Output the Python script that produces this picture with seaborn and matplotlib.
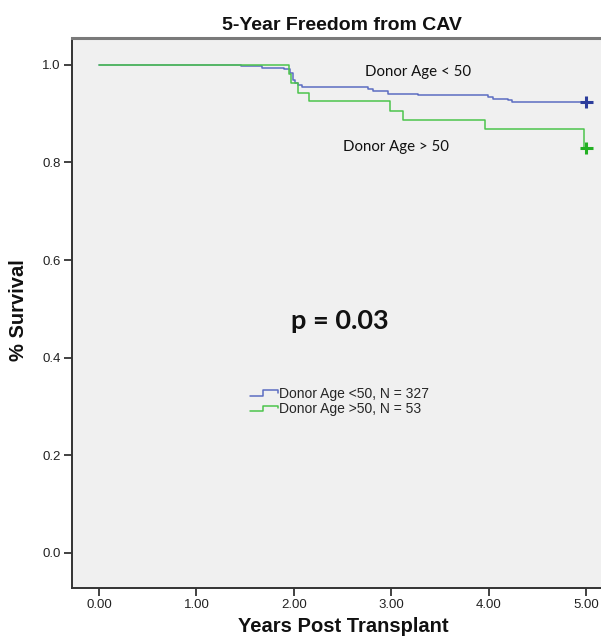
#!/usr/bin/env python
# -*- coding: utf-8 -*-

import pandas as pd
import matplotlib
matplotlib.use('Agg')
import matplotlib.pyplot as plt
from matplotlib.lines import Line2D
from matplotlib.legend_handler import HandlerBase
from matplotlib.ticker import FormatStrFormatter
import seaborn as sns

# Kaplan-Meier step values (time in years, survival after the step)
young_years = [0.00, 1.46, 1.67, 1.90, 1.96, 1.99, 2.01, 2.04, 2.08, 2.76, 2.81,
               2.96, 3.27, 3.99, 4.04, 4.20, 4.24, 5.00]
young_surv = [1.000, 0.997, 0.994, 0.991, 0.983, 0.969, 0.962, 0.959, 0.954, 0.951, 0.946,
              0.941, 0.939, 0.935, 0.931, 0.928, 0.924, 0.924]
old_years = [0.00, 1.945, 1.97, 2.04, 2.15, 2.98, 3.12, 3.96, 4.97, 5.00]
old_surv = [1.000, 0.981, 0.962, 0.943, 0.925, 0.906, 0.887, 0.868, 0.830, 0.830]

groups = ['Donor Age <50, N = 327', 'Donor Age >50, N = 53']
curve_labels = ['Donor Age < 50', 'Donor Age > 50']
x_ticks = [0, 1, 2, 3, 4, 5]
y_ticks = [0.0, 0.2, 0.4, 0.6, 0.8, 1.0]
p_text = 'p = 0.03'

LINE_COLORS = ['#5c6dc2', '#4cc44c']
MARK_COLORS = ['#2c3d9c', '#23b023']


class StepHandler(HandlerBase):
    # draws the little step symbol used in the legend
    def create_artists(self, legend, orig_handle, xdescent, ydescent, width, height, fontsize, trans):
        x0 = -xdescent
        y0 = -ydescent
        xs = [x0, x0 + 0.45 * width, x0 + 0.45 * width, x0 + width, x0 + width]
        ys = [y0 + 0.2 * height, y0 + 0.2 * height, y0 + 0.8 * height, y0 + 0.8 * height, y0 + 0.55 * height]
        line = Line2D(xs, ys, color=orig_handle.get_color(), lw=1.1, transform=trans)
        return [line]


df = pd.concat([
    pd.DataFrame({'years': young_years, 'survival': young_surv, 'group': groups[0]}),
    pd.DataFrame({'years': old_years, 'survival': old_surv, 'group': groups[1]}),
])
censored = df.groupby('group', sort=False).tail(1)

sns.set_style('white', {'axes.facecolor': '#f0f0f0'})
plt.rcParams['font.family'] = ['Liberation Sans', 'DejaVu Sans']

fig = plt.figure(figsize=(6.01, 6.38), dpi=100)
ax = fig.add_axes([72 / 601, 1 - 588 / 638, 529 / 601, 550 / 638])

sns.lineplot(data=df, x='years', y='survival', hue='group', hue_order=groups,
             palette=LINE_COLORS, drawstyle='steps-post', linewidth=1.1,
             legend=False, ax=ax, estimator=None, sort=False)
sns.scatterplot(data=censored, x='years', y='survival', hue='group', hue_order=groups,
                palette=MARK_COLORS, marker='+', s=80, linewidth=2.2, legend=False, ax=ax, zorder=5)

ax.set_xlim(-0.277, 5.149)
ax.set_ylim(-0.072, 1.055)
ax.set_xticks(x_ticks)
ax.set_yticks(y_ticks)
ax.xaxis.set_major_formatter(FormatStrFormatter('%.2f'))
ax.yaxis.set_major_formatter(FormatStrFormatter('%.1f'))
ax.tick_params(axis='both', which='major', direction='out', length=6, width=1.3,
               color='#333333', labelsize=9.5, labelcolor='#222222', pad=2,
               bottom=True, left=True)

for side in ['left', 'bottom']:
    ax.spines[side].set_color('#333333')
    ax.spines[side].set_linewidth(1.4)
ax.spines['top'].set_color('#7a7a7a')
ax.spines['top'].set_linewidth(2.2)
ax.spines['right'].set_visible(False)

ax.set_xlabel('Years Post Transplant', fontsize=14.5, fontweight='bold', color='#111111')
ax.xaxis.set_label_coords((343 - 72) / 529, -0.052)
ax.set_ylabel('% Survival', fontsize=14.5, fontweight='bold', color='#111111')
ax.yaxis.set_label_coords(-0.083, 0.505)

fig.text(342 / 601, 1 - 30 / 638, '5-Year Freedom from CAV', ha='center', va='baseline',
         fontsize=14, fontweight='bold', color='#111111')

# curve annotations and p-value
ax.text(3.27, 0.986, curve_labels[0], ha='center', va='center', fontsize=10.8,
        family=['Lato', 'DejaVu Sans'], color='#111111')
ax.text(3.05, 0.832, curve_labels[1], ha='center', va='center', fontsize=10.8,
        family=['Lato', 'DejaVu Sans'], color='#111111')
ax.text(2.47, 0.475, p_text, ha='center', va='center', fontsize=19.5, fontweight='bold',
        family=['Lato', 'DejaVu Sans'], color='#111111')

handles = [Line2D([], [], color=c) for c in LINE_COLORS]
ax.legend(handles, groups, handler_map={Line2D: StepHandler()}, loc='upper left',
          bbox_to_anchor=((250 - 72) / 529, (588 - 387) / 550), frameon=False,
          fontsize=10, handlelength=2.0, handletextpad=0.12, labelspacing=0.1,
          borderpad=0, borderaxespad=0)

plt.savefig('out.png', dpi=100)
